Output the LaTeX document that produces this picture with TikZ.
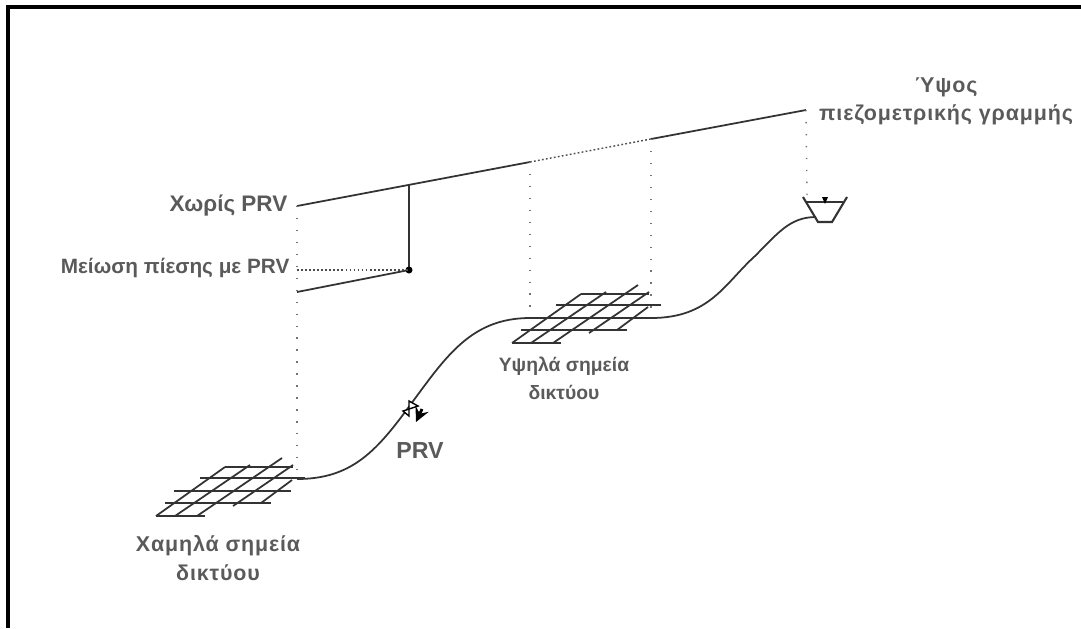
\documentclass[tikz,border=0pt]{standalone}
\usepackage{fontspec}
\setmainfont{Liberation Sans}
\newfontfamily\widefont[LetterSpace=4]{Liberation Sans}
\usetikzlibrary{arrows.meta}
\definecolor{labelgray}{HTML}{5A5A5A}
\tikzset{
  pipeline/.style={line width=0.5pt, black!80},
  guide/.style={line width=0.4pt, black!55, dash pattern=on 0.4pt off 3pt},
  closedots/.style={line width=0.4pt, black!70, dash pattern=on 0.5pt off 0.65pt},
  caption/.style={text=labelgray, font=\fontsize{5.5}{8}\selectfont\bfseries, align=center, inner sep=0pt},
  widecaption/.style={caption, font=\fontsize{6.1}{8}\selectfont\widefont\bfseries},
  netgrid/.pic={
    \foreach \xa/\xb/\yy in {0/0.49/0, 0.09/1.15/0.13, 0.18/1.35/0.25, 0.44/1.49/0.38, 0.69/1.37/0.49}
      \draw[pipeline] (\xa,\yy) -- (\xb,\yy);
    \draw[pipeline] (0,0) -- (0.69,0.49);
    \draw[pipeline] (0.19,0) -- (0.94,0.51);
    \draw[pipeline] (0.41,0) -- (1.26,0.58);
    \draw[pipeline] (0.77,0.10) -- (1.37,0.51);
    \draw[pipeline] (1.05,0.13) -- (1.36,0.36);
  }
}
\begin{document}
\begin{tikzpicture}[>=stealth]
\useasboundingbox (0,0) rectangle (10.81,6.28);
\draw[line width=1.15pt] (0.08,0) -- (0.08,6.21) -- (10.81,6.21);
% labels
\node[caption, font=\fontsize{6.4}{8}\selectfont\bfseries, anchor=east] (without) at (2.88,4.22) {Χωρίς PRV};
\node[caption, font=\fontsize{5.9}{8}\selectfont\bfseries, anchor=east] (reduced) at (2.90,3.60) {Μείωση πίεσης με PRV};
\node[widecaption] (height) at (9.46,5.27) {Ύψος\\πιεζομετρικής γραμμής};
\node[caption] (highpts) at (5.64,2.50) {Υψηλά σημεία\\δικτύου};
\node[widecaption] (lowpts) at (2.18,0.70) {Χαμηλά σημεία\\δικτύου};
\node[caption, font=\fontsize{6.6}{8}\selectfont\bfseries] (prvtext) at (4.20,1.78) {PRV};
% grade lines
\coordinate (withoutstart) at (2.97,4.22);
\coordinate (drop) at (4.09,4.43);
\coordinate (highleft) at (5.30,4.66);
\coordinate (highright) at (6.51,4.89);
\coordinate (gradeend) at (8.06,5.18);
\coordinate (reducedstart) at (2.97,3.36);
\coordinate (reducedend) at (4.09,3.58);
\coordinate (reducedguide) at (2.97,3.58);
\coordinate (lowpipe) at (2.97,1.49);
\coordinate (highpipea) at (5.30,3.10);
\coordinate (highpipeb) at (6.51,3.10);
\coordinate (tanktip) at (8.07,4.31);
\coordinate (tankin) at (8.16,4.11);
\draw[pipeline] (withoutstart) -- (highleft);
\draw[closedots] (highleft) -- (highright);
\draw[pipeline] (highright) -- (gradeend);
\draw[pipeline] (reducedstart) -- (reducedend);
\draw[pipeline] (drop) -- (reducedend);
\fill[black] (reducedend) circle (0.035);
\draw[closedots] (reducedguide) -- (reducedend);
\draw[guide] (withoutstart) -- (lowpipe);
\draw[guide] (highleft) -- (highpipea);
\draw[guide] (highright) -- (highpipeb);
\draw[guide] (gradeend) -- (tanktip);
% pipe
\draw[pipeline] (lowpipe) .. controls (3.50,1.49) and (3.75,1.75) .. (4.08,2.20)
  .. controls (4.45,2.70) and (4.70,3.10) .. (highpipea) -- (highpipeb)
  .. controls (7.10,3.10) and (7.25,3.45) .. (7.55,3.72)
  .. controls (7.78,3.95) and (7.90,4.11) .. (tankin);
% nets
\pic at (1.56,1.12) {netgrid};
\pic at (5.12,2.85) {netgrid};
% tank
\draw[pipeline, line width=0.6pt] (8.03,4.31) -- (8.18,4.06) -- (8.32,4.06) -- (8.47,4.31);
\draw[pipeline] (8.07,4.26) -- (8.43,4.26);
\fill[black] (8.22,4.31) -- (8.28,4.31) -- (8.25,4.24) -- cycle;
% valve
\draw[line width=0.4pt, fill=white] (4.03,2.17) -- (4.09,2.12) -- (4.09,2.27) -- (4.18,2.22) -- cycle;
\draw[->, line width=0.8pt] (4.22,2.19) -- (4.16,2.06);
\end{tikzpicture}
\end{document}
